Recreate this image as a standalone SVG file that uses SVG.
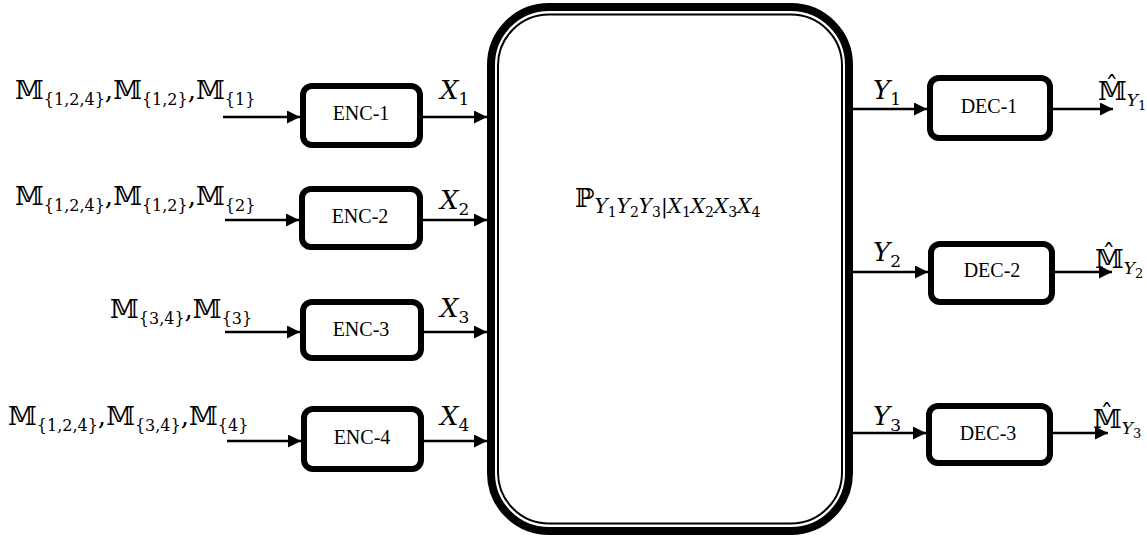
<svg xmlns="http://www.w3.org/2000/svg" width="1147" height="537" viewBox="0 0 1147 537">
<style>
.box{fill:#fff;stroke:#000;stroke-width:6}
.lbl{font-family:"Liberation Serif","Times New Roman",serif;font-size:20px;fill:#000;text-anchor:middle}
.m{font-family:"DejaVu Serif","Liberation Serif",serif;font-size:26px;fill:#000}
.s{font-size:17px}
.sl{font-size:16px}
.ss{font-size:13px}
.it{font-style:italic}
.wire{stroke:#000;stroke-width:2.5;fill:none;marker-end:url(#ah)}
</style>
<defs>
<marker id="ah" markerUnits="userSpaceOnUse" markerWidth="14" markerHeight="13" refX="13" refY="6.5" orient="auto">
<path d="M0,0 L13,6.5 L0,13 z" fill="#000"/>
</marker>
</defs>
<g id="channel">
<rect x="491" y="7" width="358" height="524" rx="58" fill="#fff" stroke="#000" stroke-width="8"/>
<rect x="498" y="14.5" width="344" height="509" rx="51" fill="none" stroke="#000" stroke-width="2"/>
<text class="m" x="575" y="207" font-size="26">ℙ<tspan class="it" dy="6" font-size="20">Y</tspan><tspan font-size="14" dy="4">1</tspan><tspan class="it" dy="-4" font-size="20">Y</tspan><tspan font-size="14" dy="4">2</tspan><tspan class="it" dy="-4" font-size="20">Y</tspan><tspan font-size="14" dy="4">3</tspan><tspan dy="-4" font-size="20">|</tspan><tspan class="it" font-size="20">X</tspan><tspan font-size="14" dy="4">1</tspan><tspan class="it" dy="-4" font-size="20">X</tspan><tspan font-size="14" dy="4">2</tspan><tspan class="it" dy="-4" font-size="20">X</tspan><tspan font-size="14" dy="4">3</tspan><tspan class="it" dy="-4" font-size="20">X</tspan><tspan font-size="14" dy="4">4</tspan></text>
</g>
<g id="enc1">
<rect class="box" x="303" y="86" width="117" height="59" rx="9"/>
<text class="lbl" x="361" y="120">ENC-1</text>
</g>
<g id="enc2">
<rect class="box" x="302" y="189" width="118" height="58" rx="9"/>
<text class="lbl" x="360" y="223">ENC-2</text>
</g>
<g id="enc3">
<rect class="box" x="303" y="302" width="118" height="56" rx="9"/>
<text class="lbl" x="361" y="336">ENC-3</text>
</g>
<g id="enc4">
<rect class="box" x="304" y="409" width="117" height="60" rx="9"/>
<text class="lbl" x="362" y="444">ENC-4</text>
</g>
<g id="dec1">
<rect class="box" x="930" y="78" width="120" height="60" rx="9"/>
<text class="lbl" x="989" y="113">DEC-1</text>
</g>
<g id="dec2">
<rect class="box" x="931" y="244" width="121" height="58" rx="9"/>
<text class="lbl" x="992" y="277">DEC-2</text>
</g>
<g id="dec3">
<rect class="box" x="929" y="406" width="121" height="57" rx="9"/>
<text class="lbl" x="988" y="440">DEC-3</text>
</g>
<g id="connectors">
<line class="wire" x1="223" y1="117" x2="300" y2="117"/>
<line class="wire" x1="225" y1="220" x2="299" y2="220"/>
<line class="wire" x1="225" y1="332" x2="300" y2="332"/>
<line class="wire" x1="227" y1="441" x2="301" y2="441"/>
<line class="wire" x1="423" y1="117" x2="487" y2="117"/>
<line class="wire" x1="423" y1="220" x2="487" y2="220"/>
<line class="wire" x1="424" y1="332" x2="487" y2="332"/>
<line class="wire" x1="424" y1="441" x2="487" y2="441"/>
<line class="wire" x1="853" y1="109" x2="927" y2="109"/>
<line class="wire" x1="853" y1="272" x2="928" y2="272"/>
<line class="wire" x1="853" y1="433" x2="926" y2="433"/>
<line class="wire" x1="1053" y1="109" x2="1113" y2="109"/>
<line class="wire" x1="1055" y1="272" x2="1112" y2="272"/>
<line class="wire" x1="1053" y1="433" x2="1108" y2="433"/>
</g>
<g id="labels">
<text class="m" x="15" y="99">𝕄<tspan class="sl" dy="6">{1,2,4}</tspan><tspan dy="-6">,</tspan>𝕄<tspan class="sl" dy="6">{1,2}</tspan><tspan dy="-6">,</tspan>𝕄<tspan class="sl" dy="6">{1}</tspan></text>
<text class="m" x="15" y="205">𝕄<tspan class="sl" dy="6">{1,2,4}</tspan><tspan dy="-6">,</tspan>𝕄<tspan class="sl" dy="6">{1,2}</tspan><tspan dy="-6">,</tspan>𝕄<tspan class="sl" dy="6">{2}</tspan></text>
<text class="m" x="110" y="318">𝕄<tspan class="sl" dy="6">{3,4}</tspan><tspan dy="-6">,</tspan>𝕄<tspan class="sl" dy="6">{3}</tspan></text>
<text class="m" x="8" y="425">𝕄<tspan class="sl" dy="6">{1,2,4}</tspan><tspan dy="-6">,</tspan>𝕄<tspan class="sl" dy="6">{3,4}</tspan><tspan dy="-6">,</tspan>𝕄<tspan class="sl" dy="6">{4}</tspan></text>
<text class="m it" x="440" y="99" font-size="23">X<tspan class="s" font-style="normal" dy="6">1</tspan></text>
<text class="m it" x="440" y="209" font-size="23">X<tspan class="s" font-style="normal" dy="6">2</tspan></text>
<text class="m it" x="440" y="317" font-size="23">X<tspan class="s" font-style="normal" dy="6">3</tspan></text>
<text class="m it" x="440" y="425" font-size="23">X<tspan class="s" font-style="normal" dy="6">4</tspan></text>
<text class="m it" x="873" y="99" font-size="23">Y<tspan class="s" font-style="normal" dy="6">1</tspan></text>
<text class="m it" x="873" y="261" font-size="23">Y<tspan class="s" font-style="normal" dy="6">2</tspan></text>
<text class="m it" x="873" y="425" font-size="23">Y<tspan class="s" font-style="normal" dy="6">3</tspan></text>
<text class="m" x="1098" y="100" font-size="26">𝕄̂<tspan class="s it" dy="6">Y</tspan><tspan class="ss" dy="4">1</tspan></text>
<text class="m" x="1095" y="268" font-size="26">𝕄̂<tspan class="s it" dy="6">Y</tspan><tspan class="ss" dy="4">2</tspan></text>
<text class="m" x="1093" y="428" font-size="26">𝕄̂<tspan class="s it" dy="6">Y</tspan><tspan class="ss" dy="4">3</tspan></text>
</g>
</svg>
